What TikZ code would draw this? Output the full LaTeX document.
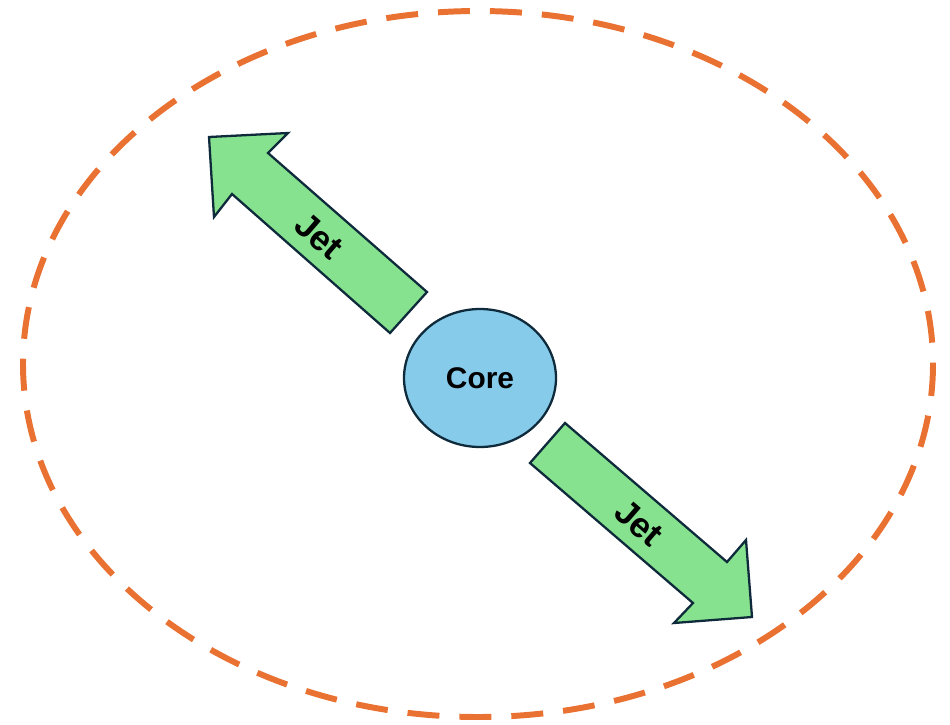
\documentclass[tikz,border=0pt]{standalone}
\usepackage{fontspec}
\setmainfont{Liberation Sans}
\usetikzlibrary{shapes.geometric}
\definecolor{jetgreen}{HTML}{86E28E}
\definecolor{edgenavy}{HTML}{0E2A3B}
\definecolor{corefill}{HTML}{86CBEA}
\definecolor{halo}{HTML}{E97132}
\tikzset{
  jetarrow/.style={fill=jetgreen, draw=edgenavy, line width=1.3pt, line join=miter},
  jetlabel/.style={font=\bfseries\fontsize{20}{24}\selectfont, text=black, rotate=-41, inner sep=0pt},
  corenode/.style={ellipse, fill=corefill, draw=edgenavy, line width=1.3pt, minimum width=3.04cm, minimum height=2.76cm, inner sep=0pt, font=\bfseries\fontsize{17}{20}\selectfont},
  halostyle/.style={draw=halo, line width=3.4pt, dash pattern=on 0.64cm off 0.4cm}
}
\begin{document}
\begin{tikzpicture}[x=0.02cm, y=-0.02cm]
\useasboundingbox (0,0) rectangle (950,724);
\draw[halostyle] (478,364) ellipse [x radius=455, y radius=353];
\node[corenode] (core) at (480,378) {Core};
% upper jet
\draw[jetarrow] (209,137) -- (288,133) -- (268,153) -- (427,292) -- (390,333) -- (232,194) -- (214,217) -- cycle;
\node[jetlabel] (jetA) at (319,236) {Jet};
% lower jet
\draw[jetarrow] (565,423) -- (727,562) -- (746,540) -- (752,617) -- (674,623) -- (693,603) -- (530,463) -- cycle;
\node[jetlabel] (jetB) at (639,523) {Jet};
\end{tikzpicture}
\end{document}
